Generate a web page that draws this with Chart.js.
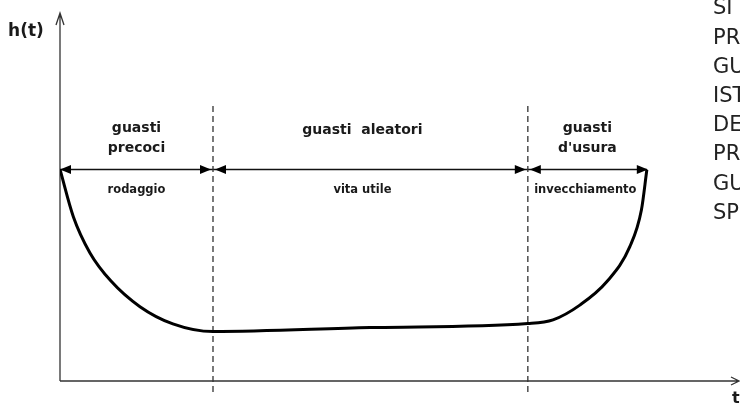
<!DOCTYPE html>
<html>
<head>
<meta charset="utf-8">
<script src="https://cdn.jsdelivr.net/npm/chart.js"></script>
<style>
html, body { margin: 0; padding: 0; background: #fff; }
#wrap { width: 740px; height: 408px; position: relative; }
</style>
</head>
<body>
<div id="wrap"><canvas id="bathtub"></canvas></div>
<script>
// curve h(t)
const tValues = [0, 1.96, 4.41, 7.5, 11.76, 16.6, 22.5, 45.6, 68.8, 72.5, 76.5, 80.4, 83.8, 85.5, 86.3];
const hValues = [57.8, 44.9, 35.0, 27.3, 20.3, 15.6, 13.5, 14.6, 15.7, 16.7, 20.8, 27.1, 36.7, 46.7, 57.7];

// phase limits on the t axis and level of the double arrows
const phaseLimits = [0, 22.5, 68.8, 86.3];
const arrowLevel = 57.8;
const dashTop = 75.9;
const dashBottom = -3;

// phase texts
const phaseTitles = [['guasti', 'precoci'], ['guasti  aleatori'], ['guasti', "d'usura"]];
const phaseNames = ['rodaggio', 'vita utile', 'invecchiamento'];

// cut-off text on the right of the slide
const sideLines = ['SI', 'PR', 'GU', 'IST', 'DE', 'PR', 'GU', 'SP'];

const ink = '#1a1a1a';
const comic = "'Comic Sans MS', 'DejaVu Sans', sans-serif";

const curve = tValues.map((t, i) => ({ x: t, y: hValues[i] }));

const datasets = [{
  data: curve,
  borderColor: '#000',
  borderWidth: 3,
  cubicInterpolationMode: 'monotone',
  pointRadius: 0
}];

// dashed limits between the phases
[phaseLimits[1], phaseLimits[2]].forEach(t => {
  datasets.push({
    data: [{ x: t, y: dashBottom }, { x: t, y: dashTop }],
    borderColor: '#333',
    borderWidth: 1.3,
    borderDash: [6, 4],
    pointRadius: 0,
    clip: false
  });
});

// double arrows shafts
for (let i = 0; i < phaseLimits.length - 1; i++) {
  datasets.push({
    data: [{ x: phaseLimits[i], y: arrowLevel }, { x: phaseLimits[i + 1], y: arrowLevel }],
    borderColor: '#111',
    borderWidth: 1.5,
    pointRadius: 0,
    clip: false
  });
}

function head(ctx, x, y, dir) {
  ctx.beginPath();
  ctx.moveTo(x, y);
  ctx.lineTo(x - dir * 11, y - 4.5);
  ctx.lineTo(x - dir * 11, y + 4.5);
  ctx.closePath();
  ctx.fill();
}

const decor = {
  id: 'decor',
  beforeDatasetsDraw(chart) {
    const ctx = chart.ctx;
    const x0 = chart.scales.x.getPixelForValue(0);
    const y0 = chart.scales.y.getPixelForValue(0);
    const top = chart.chartArea.top - 2;
    ctx.save();
    ctx.strokeStyle = '#333';
    ctx.lineWidth = 1.3;
    ctx.beginPath();
    ctx.moveTo(x0, y0);
    ctx.lineTo(x0, top);
    ctx.moveTo(x0 - 4, top + 12);
    ctx.lineTo(x0, top);
    ctx.lineTo(x0 + 4, top + 12);
    ctx.moveTo(x0, y0);
    ctx.lineTo(chart.width - 1, y0);
    ctx.moveTo(chart.width - 9, y0 - 4);
    ctx.lineTo(chart.width - 1, y0);
    ctx.lineTo(chart.width - 9, y0 + 4);
    ctx.stroke();
    ctx.restore();
  },
  afterDatasetsDraw(chart) {
    const ctx = chart.ctx;
    const xs = chart.scales.x, ys = chart.scales.y;
    const ay = ys.getPixelForValue(arrowLevel);
    ctx.save();
    ctx.fillStyle = '#000';
    for (let i = 0; i < phaseLimits.length - 1; i++) {
      const a = xs.getPixelForValue(phaseLimits[i]);
      const b = xs.getPixelForValue(phaseLimits[i + 1]);
      head(ctx, i === 0 ? a : a + 2, ay, -1);
      head(ctx, i === phaseLimits.length - 2 ? b + 1 : b - 2, ay, 1);
    }

    ctx.fillStyle = ink;
    ctx.textAlign = 'center';
    ctx.textBaseline = 'middle';
    for (let i = 0; i < phaseNames.length; i++) {
      let cx = xs.getPixelForValue((phaseLimits[i] + phaseLimits[i + 1]) / 2);
      if (i === 1) cx -= 8;
      const lines = phaseTitles[i];
      ctx.font = 'bold 14px ' + comic;
      lines.forEach((s, k) => {
        const y = lines.length === 1 ? ay - 39.5 : ay - 41.5 + k * 20;
        ctx.fillText(s, cx, y);
      });
      ctx.font = 'bold 11.5px ' + comic;
      ctx.fillText(phaseNames[i], cx - (i === 2 ? 2 : 0), ay + 21);
    }

    ctx.font = 'bold 17px ' + comic;
    ctx.fillText('h(t)', 26, 32);
    ctx.textAlign = 'left';
    ctx.font = 'bold 16px ' + comic;
    ctx.fillText('t', chart.width - 8, 399);

    ctx.font = '21px "DejaVu Sans", sans-serif';
    ctx.fillStyle = '#222';
    sideLines.forEach((s, i) => {
      ctx.fillText(s, 713, 9 + i * 29.2);
    });
    ctx.restore();
  }
};

new Chart(document.getElementById('bathtub'), {
  type: 'scatter',
  data: { datasets: datasets },
  options: {
    responsive: true,
    maintainAspectRatio: false,
    animation: false,
    showLine: true,
    layout: { padding: { left: 60, right: 0, top: 15, bottom: 27 } },
    plugins: { legend: { display: false }, tooltip: { enabled: false } },
    scales: {
      x: { type: 'linear', min: 0, max: 100, display: false },
      y: { type: 'linear', min: 0, max: 100, display: false }
    }
  },
  plugins: [decor]
});
</script>
</body>
</html>
